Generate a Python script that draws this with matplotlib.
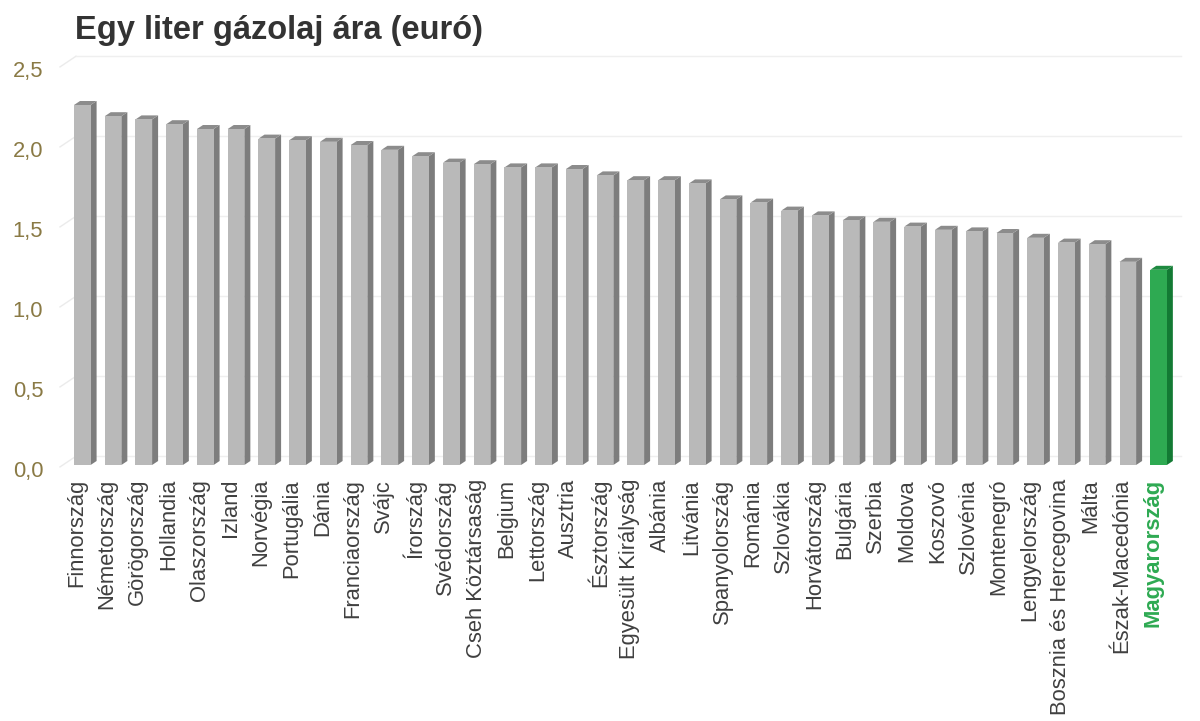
import matplotlib
matplotlib.use("Agg")
import matplotlib.pyplot as plt
from matplotlib.transforms import ScaledTranslation

countries = ["Finnország", "Németország", "Görögország", "Hollandia", "Olaszország",
             "Izland", "Norvégia", "Portugália", "Dánia", "Franciaország", "Svájc",
             "Írország", "Svédország", "Cseh Köztársaság", "Belgium", "Lettország",
             "Ausztria", "Észtország", "Egyesült Királyság", "Albánia", "Litvánia",
             "Spanyolország", "Románia", "Szlovákia", "Horvátország", "Bulgária",
             "Szerbia", "Moldova", "Koszovó", "Szlovénia", "Montenegró",
             "Lengyelország", "Bosznia és Hercegovina", "Málta", "Észak-Macedónia",
             "Magyarország"]
prices = [2.25, 2.18, 2.16, 2.13, 2.10, 2.10, 2.04, 2.03, 2.02, 2.00, 1.97,
          1.93, 1.89, 1.88, 1.86, 1.86, 1.85, 1.81, 1.78, 1.78, 1.76,
          1.66, 1.64, 1.59, 1.56, 1.53, 1.52, 1.49, 1.47, 1.46, 1.45,
          1.42, 1.39, 1.38, 1.27, 1.22]
highlight = "Magyarország"
yticks = [0.0, 0.5, 1.0, 1.5, 2.0, 2.5]
ytick_labels = ["0,0", "0,5", "1,0", "1,5", "2,0", "2,5"]
title = "Egy liter gázolaj ára (euró)"

plt.rcParams['font.family'] = ['Liberation Sans', 'DejaVu Sans']

W, H, DPI = 1200, 721, 100
fig = plt.figure(figsize=(W / DPI, H / DPI), dpi=DPI)
ax_left_px, ax_right_px = 60, 1185
ax_top_px, ax_bot_px = 50, 465
ax = fig.add_axes([ax_left_px / W, 1 - ax_bot_px / H,
                   (ax_right_px - ax_left_px) / W, (ax_bot_px - ax_top_px) / H])

n = len(countries)
xs = list(range(n))
width = 0.54
xlim = (-0.725, n - 1 + 0.86)
ylim = (0, (ax_bot_px - ax_top_px) / 160.0)
ax.set_xlim(*xlim)
ax.set_ylim(*ylim)

# depth offsets in data units
px_x = (xlim[1] - xlim[0]) / (ax_right_px - ax_left_px)
px_y = (ylim[1] - ylim[0]) / (ax_bot_px - ax_top_px)
dx, dy = 6 * px_x, 4 * px_y

# back-wall gridlines with slanted floor segment
g_off = 0.055
for v in yticks:
    x0 = xlim[0]
    x1 = xlim[0] + 16 * px_x
    ax.plot([x0, x1], [v - 0.012, v + g_off], color="#ebebeb", lw=1.0, zorder=0,
            clip_on=False)
    ax.plot([x1, n - 1 + 0.72], [v + g_off, v + g_off], color="#efefef", lw=1.0,
            zorder=0, clip_on=False)

front_colors = ["#2eaa52" if c == highlight else "#b9b9b9" for c in countries]
side_colors = ["#137a34" if c == highlight else "#7d7d7d" for c in countries]
top_colors = ["#1e8a40" if c == highlight else "#8c8c8c" for c in countries]

ax.bar(xs, prices, width=width, color=front_colors, zorder=3, linewidth=0)
for x, v, sc, tc in zip(xs, prices, side_colors, top_colors):
    r = x + width / 2
    l = x - width / 2
    ax.fill([r, r + dx, r + dx, r], [0, dy, v + dy, v], color=sc, lw=0, zorder=2)
    ax.fill([l, r, r + dx, l + dx], [v, v, v + dy, v + dy], color=tc, lw=0, zorder=2)

for s in ax.spines.values():
    s.set_visible(False)

ax.set_yticks(yticks)
ax.set_yticklabels(ytick_labels)
ax.tick_params(axis='y', length=0, pad=12, labelsize=15.8, labelcolor="#8a7a45")
for lab in ax.get_yticklabels():
    lab.set_transform(lab.get_transform() + ScaledTranslation(0, -4 / DPI, fig.dpi_scale_trans))

ax.set_xticks(xs)
ax.set_xticklabels(countries, rotation=90, ha='center', va='top')
ax.tick_params(axis='x', length=0, pad=10, labelsize=15.8, labelcolor="#404040")
for lab in ax.get_xticklabels():
    lab.set_transform(lab.get_transform() + ScaledTranslation(-6 / DPI, 0, fig.dpi_scale_trans))
    if lab.get_text() == highlight:
        lab.set_color("#2eaa52")
        lab.set_fontweight("bold")

fig.text(75 / W, 1 - 31 / H, title, fontsize=23.5, fontweight='bold', color="#333333",
         ha='left', va='center')

fig.savefig("out.png", dpi=DPI, facecolor="white")
